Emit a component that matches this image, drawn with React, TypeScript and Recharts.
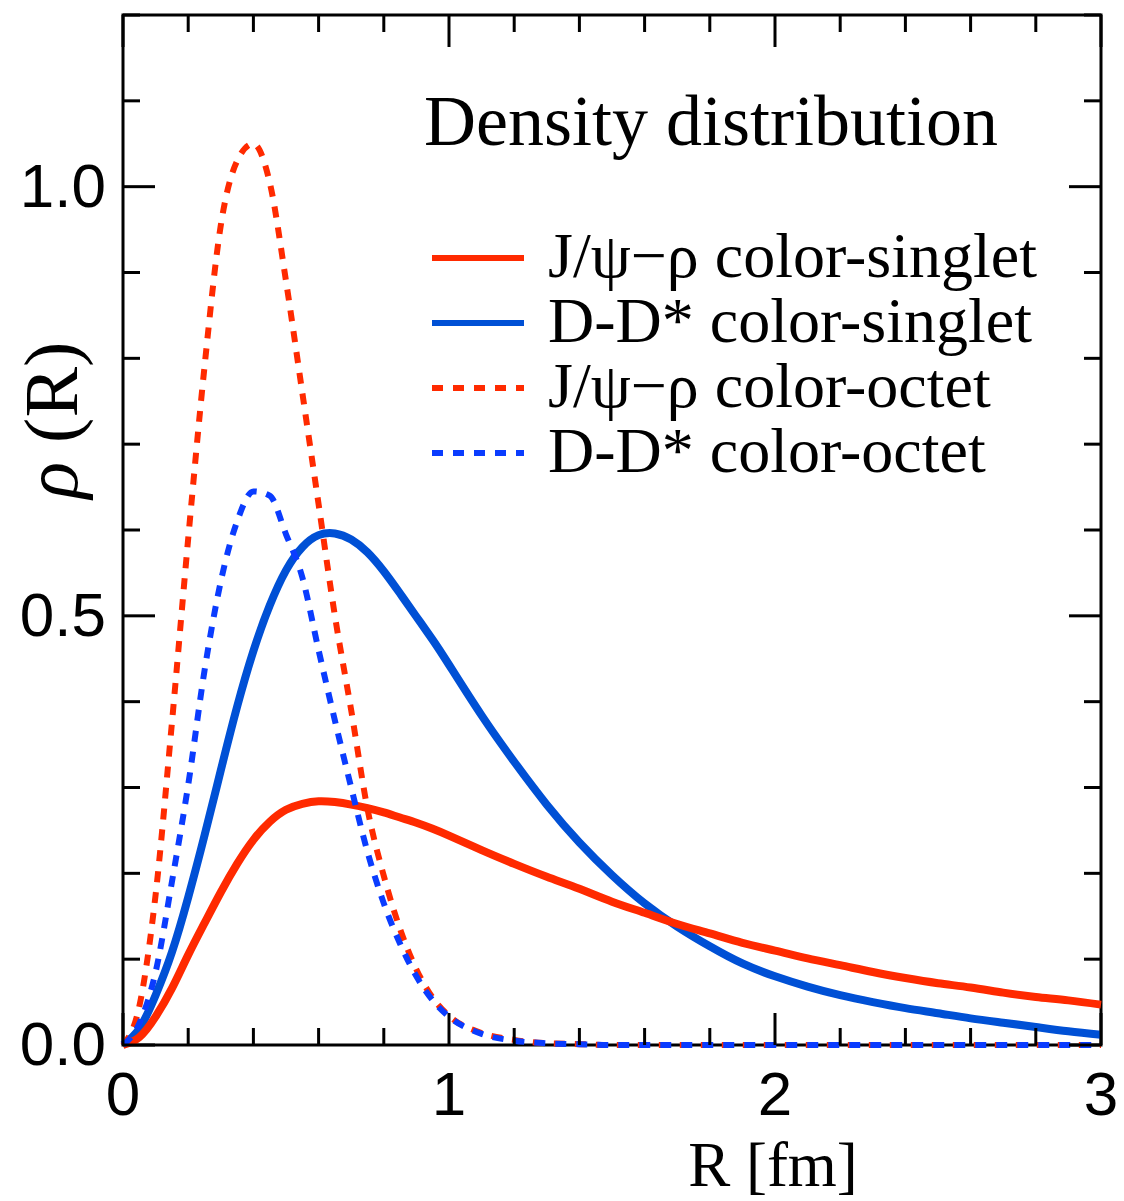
import React from "react";
import { Label, Line, LineChart, ReferenceArea, XAxis, YAxis } from "recharts";

// R grid [fm]
const rValues = [
  0, 0.05, 0.1, 0.15, 0.2, 0.25, 0.3, 0.35, 0.4, 0.45, 0.5, 0.55, 0.6, 0.65, 0.7, 0.75, 0.8, 0.85, 0.9, 0.95, 1.0,
  1.1, 1.2, 1.3, 1.4, 1.5, 1.6, 1.7, 1.8, 1.9, 2.0, 2.1, 2.2, 2.3, 2.4, 2.5, 2.6, 2.7, 2.8, 2.9, 3.0,
];

const jpsiRhoSinglet = [
  0, 0.009, 0.033, 0.066, 0.105, 0.142, 0.178, 0.211, 0.239, 0.26, 0.274, 0.281, 0.284, 0.283, 0.28, 0.276, 0.271,
  0.265, 0.259, 0.252, 0.244, 0.227, 0.211, 0.196, 0.182, 0.167, 0.154, 0.141, 0.13, 0.119, 0.11, 0.101, 0.093,
  0.085, 0.078, 0.072, 0.067, 0.061, 0.056, 0.052, 0.047,
];

const ddStarSinglet = [
  0, 0.019, 0.058, 0.108, 0.172, 0.244, 0.32, 0.394, 0.459, 0.512, 0.553, 0.58, 0.594, 0.596, 0.589, 0.574, 0.552,
  0.526, 0.499, 0.472, 0.443, 0.384, 0.33, 0.28, 0.236, 0.198, 0.165, 0.138, 0.115, 0.095, 0.08, 0.068, 0.058, 0.05,
  0.043, 0.037, 0.031, 0.026, 0.021, 0.016, 0.012,
];

const jpsiRhoOctet = [
  0, 0.045, 0.175, 0.375, 0.59, 0.79, 0.955, 1.03, 1.05, 1.005, 0.89, 0.76, 0.63, 0.5, 0.39, 0.275, 0.197, 0.135,
  0.088, 0.055, 0.034, 0.014, 0.006, 0.002, 0.001, 0, 0, 0, 0, 0, 0, 0, 0, 0, 0, 0, 0, 0, 0, 0, 0,
];

const ddStarOctet = [
  0, 0.025, 0.085, 0.19, 0.303, 0.436, 0.54, 0.61, 0.645, 0.64, 0.595, 0.545, 0.46, 0.378, 0.3, 0.225, 0.165, 0.118,
  0.08, 0.052, 0.033, 0.013, 0.005, 0.002, 0.001, 0, 0, 0, 0, 0, 0, 0, 0, 0, 0, 0, 0, 0, 0, 0, 0,
];

const xTicks = [0, 0.2, 0.4, 0.6, 0.8, 1, 1.2, 1.4, 1.6, 1.8, 2, 2.2, 2.4, 2.6, 2.8, 3];
const yTicks = [0, 0.1, 0.2, 0.3, 0.4, 0.5, 0.6, 0.7, 0.8, 0.9, 1.0, 1.1, 1.2];

const data = rValues.map((r, i) => ({
  r,
  jpsiSinglet: jpsiRhoSinglet[i],
  ddSinglet: ddStarSinglet[i],
  jpsiOctet: jpsiRhoOctet[i],
  ddOctet: ddStarOctet[i],
}));

const RED = "#ff2a00";
const BLUE = "#0050d5";
const BLUE_DASH = "#0a3cff";
const DASH = "11 10";

const legendItems = [
  { label: "J/\u03c8\u2212\u03c1 color-singlet", color: RED, dash: undefined },
  { label: "D-D* color-singlet", color: BLUE, dash: undefined },
  { label: "J/\u03c8\u2212\u03c1 color-octet", color: RED, dash: DASH },
  { label: "D-D* color-octet", color: BLUE_DASH, dash: DASH },
];

const W = 1124;
const H = 1201;
const M = { top: 15, right: 23, left: 0, bottom: 0 };
const Y_AXIS_W = 123;
const X_AXIS_H = 156;
const PLOT_RIGHT = W - M.right;
const PLOT_TOP = M.top;

const serif = "'Liberation Serif', 'Times New Roman', serif";
const sans = "'Liberation Sans', Arial, sans-serif";

function YTick({ x, y, payload }: any) {
  const v = payload.value;
  const major = Math.abs(v * 2 - Math.round(v * 2)) < 1e-6;
  const len = major ? 32 : 17;
  return (
    <g>
      <line x1={x} x2={x + len} y1={y} y2={y} stroke="#000" strokeWidth={3} />
      <line x1={PLOT_RIGHT} x2={PLOT_RIGHT - len} y1={y} y2={y} stroke="#000" strokeWidth={3} />
      {major && v < 1.2 && (
        <text x={x - 17} y={y + 20} textAnchor="end" fontSize={62} fontFamily={sans} fill="#000">
          {v.toFixed(1)}
        </text>
      )}
    </g>
  );
}

function XTick({ x, y, payload }: any) {
  const v = payload.value;
  const major = Math.abs(v - Math.round(v)) < 1e-6;
  const len = major ? 32 : 17;
  return (
    <g>
      <line x1={x} x2={x} y1={y} y2={y - len} stroke="#000" strokeWidth={3} />
      <line x1={x} x2={x} y1={PLOT_TOP} y2={PLOT_TOP + len} stroke="#000" strokeWidth={3} />
      {major && (
        <text x={x} y={y + 70} textAnchor="middle" fontSize={62} fontFamily={sans} fill="#000">
          {v}
        </text>
      )}
    </g>
  );
}

export default function App() {
  return (
    <div style={{ position: "absolute", left: 0, top: 0, width: W, height: H, background: "#fff" }}>
      <LineChart width={W} height={H} data={data} margin={M}>
        <ReferenceArea x1={0} x2={3} y1={0} y2={1.2} fill="none" stroke="#000" strokeWidth={3} fillOpacity={0} />
        <XAxis
          dataKey="r"
          type="number"
          domain={[0, 3]}
          ticks={xTicks}
          interval={0}
          height={X_AXIS_H}
          tickSize={0}
          tickMargin={0}
          tickLine={false}
          axisLine={false}
          tick={<XTick />}
        >
          <Label
            content={() => (
              <text x={773} y={1186} textAnchor="middle" fontSize={63} fontFamily={serif} fill="#000">
                R [fm]
              </text>
            )}
          />
        </XAxis>
        <YAxis
          type="number"
          domain={[0, 1.2]}
          ticks={yTicks}
          interval={0}
          width={Y_AXIS_W}
          tickSize={0}
          tickMargin={0}
          tickLine={false}
          axisLine={false}
          tick={<YTick />}
        >
          <Label
            content={() => (
              <text
                x={77}
                y={420}
                transform="rotate(-90, 77, 420)"
                textAnchor="middle"
                fontSize={76}
                fontFamily={serif}
                fill="#000"
              >
                <tspan fontStyle="italic">{"\u03c1"}</tspan>
                <tspan> (R)</tspan>
              </text>
            )}
          />
        </YAxis>
        <Line type="natural" dataKey="ddSinglet" stroke={BLUE} strokeWidth={8} dot={false} isAnimationActive={false} />
        <Line type="natural" dataKey="jpsiSinglet" stroke={RED} strokeWidth={8} dot={false} isAnimationActive={false} />
        <Line
          type="monotone"
          dataKey="jpsiOctet"
          stroke={RED}
          strokeWidth={6}
          strokeDasharray={DASH}
          dot={false}
          isAnimationActive={false}
        />
        <Line
          type="monotone"
          dataKey="ddOctet"
          stroke={BLUE_DASH}
          strokeWidth={6}
          strokeDasharray={DASH}
          dot={false}
          isAnimationActive={false}
        />
      </LineChart>
      <svg width={W} height={H} style={{ position: "absolute", left: 0, top: 0, pointerEvents: "none" }}>
        <text x={424} y={145} fontSize={72} fontFamily={serif} fill="#000">
          Density distribution
        </text>
        {legendItems.map((it, i) => (
          <g key={it.label}>
            <line
              x1={432}
              x2={524}
              y1={258 + i * 65}
              y2={258 + i * 65}
              stroke={it.color}
              strokeWidth={6}
              strokeDasharray={it.dash}
            />
            <text x={548} y={277 + i * 65} fontSize={64} fontFamily={serif} fill="#000">
              {it.label}
            </text>
          </g>
        ))}
      </svg>
    </div>
  );
}
